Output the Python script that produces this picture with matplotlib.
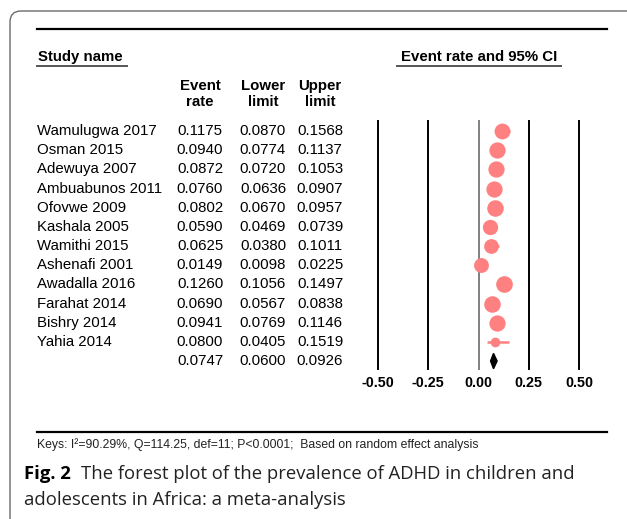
import matplotlib
matplotlib.use("Agg")
import matplotlib.pyplot as plt
from matplotlib.patches import FancyBboxPatch, Polygon

plt.rcParams['font.family'] = ['Liberation Sans', 'DejaVu Sans']

# Study-level data (event rate with 95% CI)
studies = ["Wamulugwa 2017", "Osman 2015", "Adewuya 2007", "Ambuabunos 2011",
           "Ofovwe 2009", "Kashala 2005", "Wamithi 2015", "Ashenafi 2001",
           "Awadalla 2016", "Farahat 2014", "Bishry 2014", "Yahia 2014"]
event_rate = [0.1175, 0.0940, 0.0872, 0.0760, 0.0802, 0.0590, 0.0625, 0.0149,
              0.1260, 0.0690, 0.0941, 0.0800]
lower = [0.0870, 0.0774, 0.0720, 0.0636, 0.0670, 0.0469, 0.0380, 0.0098,
         0.1056, 0.0567, 0.0769, 0.0405]
upper = [0.1568, 0.1137, 0.1053, 0.0907, 0.0957, 0.0739, 0.1011, 0.0225,
         0.1497, 0.0838, 0.1146, 0.1519]
# marker diameter (relative weight)
marker_size = [11.4, 11.7, 11.7, 11.7, 11.9, 11.0, 10.6, 10.7, 12.0, 11.9, 11.7, 7.0]

pooled = (0.0747, 0.0600, 0.0926)
xticks = [-0.50, -0.25, 0.00, 0.25, 0.50]

keys_text = "Keys: I\u00b2=90.29%, Q=114.25, def=11; P<0.0001;  Based on random effect analysis"

W, H = 627, 519
fig = plt.figure(figsize=(W / 100, H / 100), dpi=100)

# full-figure axes in pixel coordinates for table text and rules
bg = fig.add_axes([0, 0, 1, 1])
bg.set_xlim(0, W)
bg.set_ylim(H, 0)
bg.axis("off")

# rounded frame
frame = FancyBboxPatch((10, 11), 660, 560, boxstyle="round,pad=0,rounding_size=11",
                       fill=False, ec="#6b6b6b", lw=1.0)
bg.add_patch(frame)

# horizontal rules
bg.plot([37, 607], [29, 29], color="black", lw=1.6)
bg.plot([37, 607], [432, 432], color="black", lw=1.6)

fs = 10.8
# headers
bg.text(38, 57, "Study name", fontsize=fs, fontweight="bold", va="center", ha="left")
bg.plot([37, 127], [66, 66], color="#555555", lw=1.4)
bg.text(479, 57, "Event rate and 95% CI", fontsize=fs, fontweight="bold", va="center", ha="center")
bg.plot([397, 561], [66, 66], color="#555555", lw=1.4)

col_x = [200, 263, 320]
col_heads = [("Event", "rate"), ("Lower", "limit"), ("Upper", "limit")]
for cx, (a, b) in zip(col_x, col_heads):
    bg.text(cx, 86, a, fontsize=fs, fontweight="bold", ha="center", va="center")
    bg.text(cx, 102, b, fontsize=fs, fontweight="bold", ha="center", va="center")

row_y0, row_dy = 131, 19.17
for i, name in enumerate(studies):
    y = row_y0 + i * row_dy
    bg.text(37, y, name, fontsize=fs, ha="left", va="center")
    for cx, v in zip(col_x, (event_rate[i], lower[i], upper[i])):
        bg.text(cx, y, f"{v:.4f}", fontsize=fs, ha="center", va="center")
ys = row_y0 + len(studies) * row_dy
for cx, v in zip(col_x, pooled):
    bg.text(cx, ys, f"{v:.4f}", fontsize=fs, ha="center", va="center")

bg.text(37, 445, keys_text, fontsize=8.8, ha="left", va="center", color="#222222")

# caption
cap_font = ['Open Sans', 'DejaVu Sans']
bg.text(24, 474, "Fig. 2", fontsize=13.3, fontweight="bold", family=cap_font, ha="left", va="center")
bg.text(81, 474, "The forest plot of the prevalence of ADHD in children and",
        fontsize=13.3, family=cap_font, ha="left", va="center", color="#222222")
bg.text(24, 500, "adolescents in Africa: a meta-analysis",
        fontsize=13.3, family=cap_font, ha="left", va="center", color="#222222")

# forest plot axes
x0, x1 = 378, 579
ytop, ybot = 121, 369
ax = fig.add_axes([x0 / W, 1 - ybot / H, (x1 - x0) / W, (ybot - ytop) / H])
ax.set_xlim(-0.5, 0.5)
n = len(studies)
ax.set_ylim((ybot - row_y0) / row_dy, (ytop - row_y0) / row_dy)
ax.axis("off")
ax.patch.set_alpha(0)

for t in xticks:
    ax.axvline(t, color="#808080" if t == 0 else "black", lw=1.4, clip_on=False)
    ax.text(t, (383 - row_y0) / row_dy, f"{t:.2f}", fontsize=10.3, fontweight="bold",
            ha="center", va="center")

salmon = "#ff8080"
for i in range(n):
    ax.plot([lower[i], upper[i]], [i, i], color=salmon, lw=1.8, solid_capstyle="butt")
    ax.plot(event_rate[i], i, "o", ms=marker_size[i], color=salmon, mec="none")

est, lo, hi = pooled
diamond = Polygon([(lo, n), (est, n - 0.4), (hi, n), (est, n + 0.4)],
                  closed=True, color="black")
ax.add_patch(diamond)

fig.savefig("out.png", dpi=100)
